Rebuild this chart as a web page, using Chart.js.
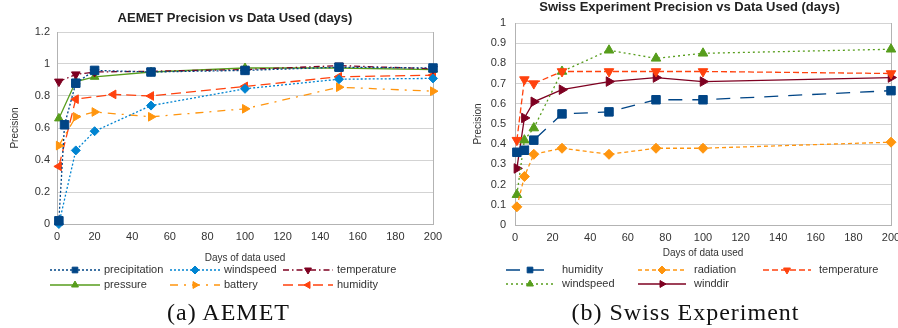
<!DOCTYPE html>
<html>
<head>
<meta charset="utf-8">
<script src="https://cdn.jsdelivr.net/npm/chart.js@4.4.0/dist/chart.umd.min.js"></script>
<style>
  body { margin: 0; width: 898px; height: 328px; background: #fff; overflow: hidden; position: relative; }
  .box { position: absolute; top: 0; width: 449px; height: 300px; }
  .caption { position: absolute; top: 298px; width: 449px; line-height: 28px; text-align: center;
             font-family: "Liberation Serif", serif; font-size: 24px; letter-spacing: 1px; color: #111; }
</style>
</head>
<body>
<div class="box" style="left:0"><canvas id="aemetChart"></canvas></div>
<div class="box" style="left:449px"><canvas id="swissChart"></canvas></div>
<div class="caption" style="left:4px">(a) AEMET</div>
<div class="caption" style="left:461px">(b) Swiss Experiment</div>
<script>
// tick values
const daysTicks = [0, 20, 40, 60, 80, 100, 120, 140, 160, 180, 200];
const aemetPrecisionTicks = [0, 0.2, 0.4, 0.6, 0.8, 1, 1.2];
const swissPrecisionTicks = [0, 0.1, 0.2, 0.3, 0.4, 0.5, 0.6, 0.7, 0.8, 0.9, 1];

// AEMET series (days used -> precision)
const aemetPrecipDays = [1, 4, 10, 20, 50, 100, 150, 200];
const aemetPrecip     = [0.02, 0.62, 0.88, 0.96, 0.95, 0.96, 0.98, 0.975];
const aemetWindDays   = [1, 10, 20, 50, 100, 150, 200];
const aemetWind       = [0.0, 0.46, 0.58, 0.74, 0.845, 0.905, 0.91];
const aemetTempDays   = [1, 10, 20, 50, 100, 150, 200];
const aemetTemp       = [0.89, 0.935, 0.95, 0.955, 0.965, 0.99, 0.97];
const aemetPressDays  = [1, 10, 20, 50, 100, 150, 200];
const aemetPress      = [0.66, 0.89, 0.92, 0.95, 0.975, 0.975, 0.965];
const aemetBattDays   = [1, 10, 20, 50, 100, 150, 200];
const aemetBatt       = [0.49, 0.67, 0.70, 0.67, 0.72, 0.855, 0.83];
const aemetHumDays    = [1, 10, 30, 50, 100, 150, 200];
const aemetHum        = [0.36, 0.78, 0.81, 0.80, 0.86, 0.92, 0.93];

// Swiss Experiment series
const swissDays     = [1, 5, 10, 25, 50, 75, 100, 200];
const swissHum      = [0.36, 0.37, 0.42, 0.55, 0.56, 0.62, 0.62, 0.665];
const swissRad      = [0.09, 0.24, 0.35, 0.38, 0.35, 0.38, 0.38, 0.41];
const swissTemp     = [0.42, 0.72, 0.70, 0.76, 0.76, 0.76, 0.76, 0.75];
const swissWind     = [0.15, 0.42, 0.48, 0.76, 0.865, 0.825, 0.85, 0.87];
const swissWindDir  = [0.28, 0.53, 0.61, 0.67, 0.71, 0.73, 0.71, 0.73];

const aemetSeries = [
    { label: 'precipitation', x: aemetPrecipDays, y: aemetPrecip, color: '#004586', dash: [2, 2], shape: 'rect', rot: 0, r: 6 },
    { label: 'windspeed', x: aemetWindDays, y: aemetWind, color: '#0084d1', dash: [2, 2], shape: 'rectRot', rot: 0, r: 4.5 },
    { label: 'temperature', x: aemetTempDays, y: aemetTemp, color: '#7e0021', dash: [6, 3, 1.5, 3], shape: 'triangle', rot: 180, r: 5 },
    { label: 'pressure', x: aemetPressDays, y: aemetPress, color: '#579d1c', dash: [], shape: 'triangle', rot: 0, r: 5 },
    { label: 'battery', x: aemetBattDays, y: aemetBatt, color: '#ff950e', dash: [8, 6, 2, 6], shape: 'triangle', rot: 90, r: 5 },
    { label: 'humidity', x: aemetHumDays, y: aemetHum, color: '#ff420e', dash: [10, 5], shape: 'triangle', rot: 270, r: 5 }
];

const swissSeries = [
    { label: 'humidity', x: swissDays, y: swissHum, color: '#004586', dash: [14, 10], shape: 'rect', rot: 0, r: 6 },
    { label: 'radiation', x: swissDays, y: swissRad, color: '#ff950e', dash: [4, 3], shape: 'rectRot', rot: 0, r: 5 },
    { label: 'temperature', x: swissDays, y: swissTemp, color: '#ff420e', dash: [6, 3], shape: 'triangle', rot: 180, r: 5.5 },
    { label: 'windspeed', x: swissDays, y: swissWind, color: '#579d1c', dash: [2, 3], shape: 'triangle', rot: 0, r: 5.5 },
    { label: 'winddir', x: swissDays, y: swissWindDir, color: '#7e0021', dash: [], shape: 'triangle', rot: 90, r: 5.5 }
];

Chart.defaults.font.family = '"Liberation Sans", Arial, sans-serif';
Chart.defaults.color = '#333';

// legend in rows of three, line sample + marker + label
const rowLegend = {
    id: 'rowLegend',
    afterDraw(chart, args, o) {
        const ctx = chart.ctx;
        ctx.save();
        chart.data.datasets.forEach((ds, i) => {
            const x0 = o.cols[i % 3];
            const y = o.rows[Math.floor(i / 3)];
            ctx.strokeStyle = ds.borderColor;
            ctx.lineWidth = ds.borderWidth;
            ctx.setLineDash(ds.borderDash || []);
            ctx.beginPath();
            ctx.moveTo(x0, y);
            ctx.lineTo(x0 + o.sampleW, y);
            ctx.stroke();
            ctx.setLineDash([]);
            ctx.fillStyle = ds.backgroundColor;
            ctx.lineWidth = 1;
            Chart.helpers.drawPoint(ctx, {
                pointStyle: ds.pointStyle, radius: o.markR, rotation: ds.pointRotation, borderWidth: 1
            }, x0 + o.sampleW / 2, y);
            ctx.fillStyle = '#333';
            ctx.font = '11px "Liberation Sans", Arial, sans-serif';
            ctx.textAlign = 'left';
            ctx.textBaseline = 'middle';
            ctx.fillText(ds.label, x0 + o.sampleW + o.gap, y);
        });
        ctx.restore();
    }
};

const tickLabel = v => String(+Number(v).toFixed(2));

function buildChart(canvasId, cfg) {
    return new Chart(document.getElementById(canvasId), {
        type: 'line',
        data: {
            datasets: cfg.series.map(s => ({
                label: s.label,
                data: s.x.map((d, i) => ({ x: d, y: s.y[i] })),
                borderColor: s.color,
                backgroundColor: s.color,
                borderDash: s.dash,
                borderWidth: 1.3,
                pointStyle: s.shape,
                pointRotation: s.rot,
                pointRadius: s.r,
                pointBorderWidth: 1,
                tension: 0,
                fill: false,
                clip: false
            }))
        },
        options: {
            responsive: true,
            maintainAspectRatio: false,
            animation: false,
            layout: { padding: cfg.padding },
            plugins: {
                legend: { display: false },
                tooltip: { enabled: false },
                title: {
                    display: true,
                    text: cfg.title,
                    color: '#222',
                    font: { size: 13, weight: 'bold' },
                    padding: cfg.titlePad
                },
                rowLegend: cfg.legend
            },
            scales: {
                x: {
                    type: 'linear',
                    min: 0,
                    max: 200,
                    afterBuildTicks: s => { s.ticks = daysTicks.map(v => ({ value: v })); },
                    afterFit: s => { s.height = cfg.xHeight; s.paddingLeft = 0; s.paddingRight = 0; },
                    grid: { display: false, drawTicks: false },
                    border: { display: true, color: '#b3b3b3' },
                    ticks: { autoSkip: false, maxRotation: 0, padding: 6, font: { size: 11 }, callback: tickLabel },
                    title: { display: true, text: 'Days of data used', font: { size: 10 }, padding: { top: 0, bottom: 0 } }
                },
                y: {
                    min: 0,
                    max: cfg.yMax,
                    afterBuildTicks: s => { s.ticks = cfg.yTicks.map(v => ({ value: v })); },
                    afterFit: s => { s.width = cfg.yWidth; },
                    grid: { color: '#d3d3d3', drawTicks: false },
                    border: { display: true, color: '#b3b3b3' },
                    ticks: { padding: cfg.yTickPad, font: { size: 11 }, callback: tickLabel },
                    title: { display: true, text: 'Precision', font: { size: 10 }, padding: { top: cfg.yTitlePad, bottom: 0 } }
                },
                // right-hand frame of the plot wall
                yFrame: {
                    position: 'right',
                    min: 0,
                    max: cfg.yMax,
                    afterFit: s => { s.width = cfg.frameWidth; },
                    grid: { drawOnChartArea: false, drawTicks: false },
                    border: { display: true, color: '#b3b3b3' },
                    ticks: { display: false }
                }
            }
        },
        plugins: [rowLegend]
    });
}

buildChart('aemetChart', {
    title: 'AEMET Precision vs Data Used (days)',
    series: aemetSeries,
    yTicks: aemetPrecisionTicks,
    yMax: 1.2,
    padding: { left: 21, right: 0, top: 0, bottom: 36 },
    titlePad: { top: 11, bottom: 5.4 },
    xHeight: 40,
    yWidth: 36,
    frameWidth: 16,
    yTickPad: 7,
    yTitlePad: -12,
    legend: { cols: [50, 170, 283], rows: [270, 285], sampleW: 50, gap: 4, markR: 4 }
});

buildChart('swissChart', {
    title: 'Swiss Experiment Precision vs Data Used (days)',
    series: swissSeries,
    yTicks: swissPrecisionTicks,
    yMax: 1,
    padding: { left: 32, right: 0, top: 0, bottom: 41 },
    titlePad: { top: 0, bottom: 7.4 },
    xHeight: 34,
    yWidth: 34,
    frameWidth: 7,
    yTickPad: 9,
    yTitlePad: -9,
    legend: { cols: [57, 189, 314], rows: [270, 284], sampleW: 48, gap: 8, markR: 4 }
});
</script>
</body>
</html>
